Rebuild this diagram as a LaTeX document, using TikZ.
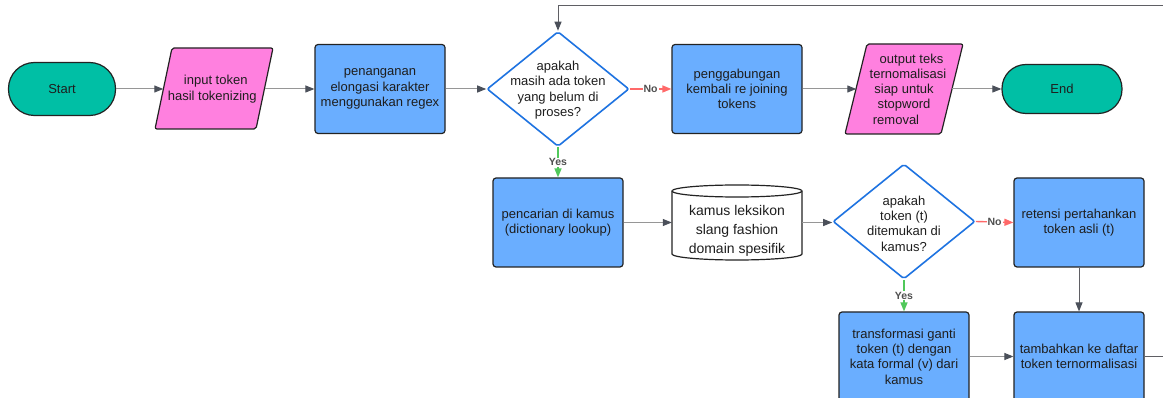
\documentclass[tikz,border=0pt]{standalone}
\usepackage{fontspec}
\setmainfont{Liberation Sans}
\usetikzlibrary{arrows.meta,shapes.geometric}
\definecolor{cTeal}{RGB}{0,191,165}
\definecolor{cPink}{RGB}{255,128,223}
\definecolor{cBlue}{RGB}{106,174,255}
\definecolor{cDia}{RGB}{30,115,225}
\definecolor{cBorder}{RGB}{35,35,35}
\definecolor{cText}{RGB}{30,30,30}
\definecolor{cLine}{RGB}{150,150,150}
\definecolor{cHead}{RGB}{75,80,90}
\definecolor{cLoop}{RGB}{95,95,100}
\definecolor{cRed}{RGB}{255,105,105}
\definecolor{cGreen}{RGB}{80,200,90}
\definecolor{cLbl}{RGB}{80,80,80}
\newcommand\fsn{\fontsize{13}{15.3}\selectfont}
\newcommand\fsc{\fontsize{14}{19.3}\selectfont}
\newcommand\fsl{\bfseries\fontsize{10.5}{11}\selectfont}
\begin{document}
\begin{tikzpicture}[x=1pt,y=-1pt,
  txt/.style={inner sep=0pt, align=center, text=cText, font=\fsn},
  box/.style={txt, draw=cBorder, line width=1.2pt, fill=cBlue, rounded corners=3pt,
    minimum width=130pt, minimum height=89pt},
  term/.style={txt, draw=cBorder, line width=1.2pt, fill=cTeal},
  para/.style={draw=cBorder, line width=1.2pt, fill=cPink, rounded corners=2pt},
  dia/.style={diamond, draw=cDia, line width=1.6pt, fill=white, inner sep=0pt,
    rounded corners=2pt, minimum width=142pt, minimum height=115pt},
  cylsty/.style={draw=cBorder, line width=1.2pt, fill=white},
  conn/.style={draw=cLine, line width=1pt, -{Triangle[length=9pt,width=7pt,color=cHead]}},
  connr/.style={draw=cRed, line width=1.4pt, -{Triangle[length=9pt,width=7pt,color=cRed]}},
  conng/.style={draw=cGreen, line width=1.4pt, -{Triangle[length=9pt,width=7pt,color=cGreen]}},
  loopc/.style={draw=cLoop, line width=1pt, -{Triangle[length=9pt,width=7pt,color=cHead]}},
  lbl/.style={fill=white, inner sep=1pt, text=cLbl, font=\fsl}]
\useasboundingbox (0,0) rectangle (1163,398);
\clip (0,0) rectangle (1163,398);
\fill[white] (0,0) rectangle (1163,398);

% row 1
\node[term, minimum width=107pt, minimum height=53pt, rounded corners=26pt] (start) at (62,89) {Start};
\draw[para] (172,48) -- (273,48) -- (256,129) -- (155,129) -- cycle;
\node[txt, minimum width=101pt, minimum height=81pt] (in) at (214,89)
  {\hspace*{3.5pt}input token\\hasil tokenizing\hspace*{3.5pt}};
\node[box] (pen) at (380,89) {penanganan\\elongasi karakter\\menggunakan regex};
\node[dia] (d1) at (558,89) {};
\node[txt] at (558,90) {apakah\\masih ada token\\yang belum di\\proses?};
\node[box] (pg) at (737,89) {penggabungan\\kembali re joining\\tokens};
\draw[para] (867,44) -- (963,44) -- (941,134) -- (845,134) -- cycle;
\node[txt, minimum width=95pt, minimum height=90pt] (out) at (904,89)
  {\hspace*{15pt}output teks\\\hspace*{8pt}ternomalisasi\\siap untuk\\stopword\hspace*{8pt}\\removal\hspace*{16pt}};
\node[term, minimum width=120pt, minimum height=49pt, rounded corners=24pt] (end) at (1062,89) {End};

% row 2
\node[box] (look) at (558,222.5) {pencarian di kamus\\(dictionary lookup)};
\draw[cylsty] (672,191) -- (672,254) arc[start angle=180, end angle=0, x radius=65, y radius=6]
  -- (802,191) arc[start angle=0, end angle=-180, x radius=65, y radius=6] -- cycle;
\draw[cylsty] (672,191) arc[start angle=180, end angle=0, x radius=65, y radius=6];
\node[txt, font=\fsc, minimum width=130pt, minimum height=60pt] (cyl) at (737,231)
  {kamus leksikon\\slang fashion\\domain spesifik};
\node[dia] (d2) at (904,221.5) {};
\node[txt] at (904,223.5) {apakah\\token (t)\\ditemukan di\\kamus?};
\node[box] (ret) at (1079,222.5) {retensi pertahankan\\token asli (t)};

% row 3
\node[box] (tr) at (904,356.5) {transformasi ganti\\token (t) dengan\\kata formal (v) dari\\kamus};
\node[box] (tam) at (1079,356.5) {tambahkan ke daftar\\token ternormalisasi};

% connectors
\draw[conn] (start.east) -- (in.west);
\draw[conn] (in.east) -- (pen.west);
\draw[conn] (pen.east) -- (d1.west);
\draw[connr] (d1.east) -- (pg.west) node[lbl, pos=0.5] {No};
\draw[conn] (pg.east) -- (out.west);
\draw[conn] (out.east) -- (end.west);
\draw[conng] (d1.south) -- (look.north) node[lbl, pos=0.5] {Yes};
\draw[conn] (look.east) -- (look.east -| cyl.west);
\draw[conn] (look.east -| cyl.east) -- (look.east -| d2.west);
\draw[connr] (d2.east) -- (ret.west) node[lbl, pos=0.5] {No};
\draw[conng] (d2.south) -- (tr.north) node[lbl, pos=0.5] {Yes};
\draw[loopc] (ret.south) -- (tam.north);
\draw[conn] (tr.east) -- (tam.west);
\coordinate (corner) at (1190,6);
\draw[loopc] (tam.east) -| (corner) -| (d1.north);
\end{tikzpicture}
\end{document}
